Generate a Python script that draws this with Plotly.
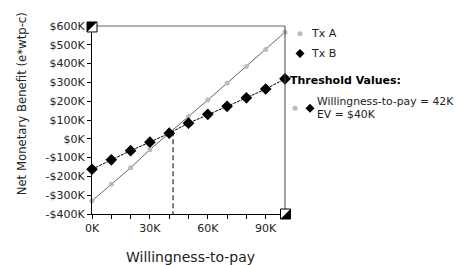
import plotly.graph_objects as go

wtp = [0, 10000, 20000, 30000, 40000, 50000, 60000, 70000, 80000, 90000, 100000]
tx_a = [-330000, -242000, -154000, -58000, 32000, 119000, 206000, 296000, 385000, 475000, 567000]
tx_b = [-162000, -112000, -63000, -18000, 30000, 83000, 130000, 173000, 218000, 265000, 319000]
threshold_wtp = 42000
threshold_ev = 40000
y_ticks = [-400000, -300000, -200000, -100000, 0, 100000, 200000, 300000, 400000, 500000, 600000]
y_labels = ["-$400K", "-$300K", "-$200K", "-$100K", "$0K", "$100K", "$200K", "$300K", "$400K", "$500K", "$600K"]
x_ticks = [0, 30000, 60000, 90000]
x_labels = ["0K", "30K", "60K", "90K"]

FONT = "DejaVu Sans, Verdana, sans-serif"
FONT_C = "DejaVu Sans Condensed, DejaVu Sans, sans-serif"
TXT = "#222222"

fig = go.Figure()
fig.add_trace(go.Scatter(x=wtp, y=tx_a, mode="lines+markers", name="Tx A",
                         line=dict(color="#666666", width=1),
                         marker=dict(symbol="circle", size=5, color="#bbbbbb"),
                         showlegend=False, cliponaxis=False))
fig.add_trace(go.Scatter(x=wtp, y=tx_b, mode="lines+markers", name="Tx B",
                         line=dict(color="#000000", width=1, dash="3px,1px"),
                         marker=dict(symbol="diamond", size=9, color="#000000"),
                         showlegend=False, cliponaxis=False))
fig.add_trace(go.Scatter(x=[threshold_wtp, threshold_wtp], y=[threshold_ev, -400000], mode="lines",
                         line=dict(color="#000000", width=1, dash="5px,3px"), showlegend=False))

PW = 193.0
PH = 192.0
def px(xp):
    return (xp - 92) / PW
def py(yp):
    return 1 - (yp - 22) / PH

shapes = [
    dict(type="line", xref="paper", yref="paper", x0=0, x1=1, y0=1, y1=1, line=dict(color="#666666", width=1)),
    dict(type="line", xref="paper", yref="paper", x0=1, x1=1, y0=0, y1=1, line=dict(color="#444444", width=1)),
]
def dot(xp, yp, color, r=2.5):
    shapes.append(dict(type="circle", xref="paper", yref="paper", xsizemode="pixel", ysizemode="pixel",
                       xanchor=px(xp), yanchor=py(yp), x0=-r, x1=r, y0=-r, y1=r,
                       fillcolor=color, line=dict(width=0)))
def diamond(xp, yp, r=4.5):
    shapes.append(dict(type="path", xref="paper", yref="paper", xsizemode="pixel", ysizemode="pixel",
                       xanchor=px(xp), yanchor=py(yp),
                       path=f"M 0 {r} L {r} 0 L 0 {-r} L {-r} 0 Z",
                       fillcolor="#000000", line=dict(width=0)))

dot(300, 30, "#bbbbbb")
diamond(300, 50)
dot(295, 106, "#bbbbbb")
diamond(310, 106)

def handle(xp, yp, corner):
    s = 5
    shapes.append(dict(type="rect", xref="paper", yref="paper", xsizemode="pixel", ysizemode="pixel",
                       xanchor=px(xp), yanchor=py(yp), x0=-s, x1=s, y0=-s, y1=s,
                       fillcolor="white", line=dict(color="#000000", width=1)))
    if corner == "tl":
        path = f"M {-s} {s} L {s} {s} L {-s} {-s} Z"
    else:
        path = f"M {s} {-s} L {-s} {-s} L {s} {s} Z"
    shapes.append(dict(type="path", xref="paper", yref="paper", xsizemode="pixel", ysizemode="pixel",
                       xanchor=px(xp), yanchor=py(yp), path=path,
                       fillcolor="#000000", line=dict(width=0)))

handle(92, 23, "tl")
handle(285.5, 214, "br")

def ann(text, xp, yp, size=11, xanchor="left", angle=0, color=TXT, family=FONT):
    return dict(text=text, x=px(xp), y=py(yp), xref="paper", yref="paper", xanchor=xanchor, yanchor="middle",
                showarrow=False, textangle=angle, font=dict(size=size, color=color, family=family))

annotations = [
    ann("Tx A", 309, 30),
    ann("Tx B", 309, 50),
    ann("<b>Threshold Values:</b>", 288, 78, color="#000000"),
    ann("Willingness-to-pay = 42K", 315, 99, size=10.8),
    ann("EV = $40K", 315, 112, size=10.8),
    ann("Net Monetary Benefit (e*wtp-c)", 21, 102, size=13, xanchor="center", angle=-90, family=FONT_C),
    ann("Willingness-to-pay", 190, 258, size=14, xanchor="center"),
]

# the page body adds an 8px offset; compensate so the plot sits where the reference has it
OFF = 8
fig.update_layout(
    width=464 - OFF, height=265 - OFF,
    margin=dict(l=92 - OFF, r=179, t=22 - OFF, b=51),
    paper_bgcolor="white", plot_bgcolor="white",
    font=dict(family=FONT, size=11, color="#000000"),
    shapes=shapes, annotations=annotations,
    xaxis=dict(range=[0, 100000], tickvals=x_ticks, ticktext=x_labels, ticks="outside", ticklen=4,
               tickcolor="#000000", showgrid=False, zeroline=False, showline=True, linecolor="#000000",
               linewidth=1,
               minor=dict(dtick=10000, ticks="outside", ticklen=4, tickcolor="#000000", showgrid=False),
               tickfont=dict(size=11, color=TXT)),
    yaxis=dict(range=[-400000, 600000], tickvals=y_ticks, ticktext=y_labels, ticks="outside", ticklen=4,
               tickcolor="#000000", showgrid=False, zeroline=False, showline=True, linecolor="#000000",
               linewidth=1, tickfont=dict(size=11, color=TXT)),
)

fig.write_html("out.html")
